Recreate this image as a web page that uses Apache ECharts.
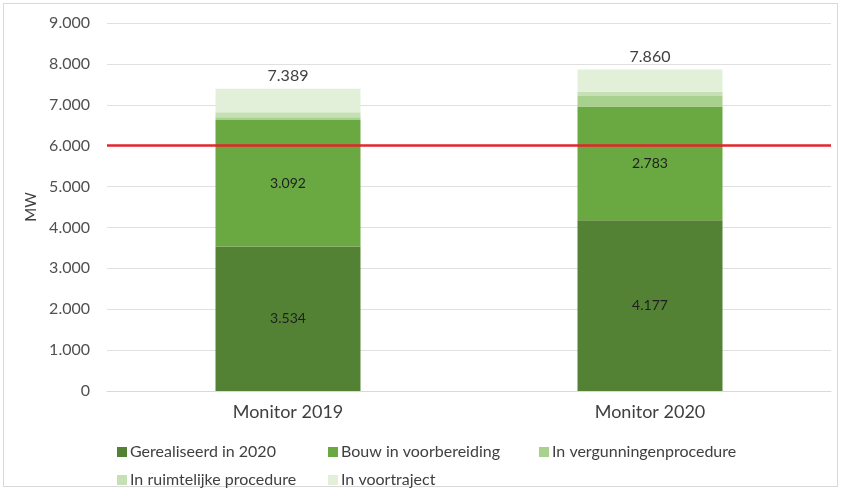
<!DOCTYPE html>
<html>
<head>
<meta charset="utf-8">
<script src="https://cdn.jsdelivr.net/npm/echarts@6/dist/echarts.min.js"></script>
<style>
html,body{margin:0;padding:0;background:#fff;}
#frame{position:absolute;left:3px;top:3px;width:835px;height:484px;border:1px solid #d9d9d9;box-sizing:border-box;}
#chart{position:absolute;left:0;top:0;width:844px;height:492px;}
</style>
</head>
<body>
<div id="frame"></div>
<div id="chart"></div>
<script>
const categories = ['Monitor 2019', 'Monitor 2020'];
const gerealiseerd = [3534, 4177];
const bouw = [3092, 2783];
const vergunning = [70, 253];
const ruimtelijk = [120, 105];
const voortraject = [573, 542];
const targetLine = 6000;
const yTicks = [0, 1000, 2000, 3000, 4000, 5000, 6000, 7000, 8000, 9000];

function fmt(v) {
  const s = String(Math.round(v));
  return s.replace(/\B(?=(\d{3})+(?!\d))/g, '.');
}
const totals = categories.map((_, i) => gerealiseerd[i] + bouw[i] + vergunning[i] + ruimtelijk[i] + voortraject[i]);

const FONT = 'Lato';
const chart = echarts.init(document.getElementById('chart'), null, {renderer: 'canvas'});
const names = ['Gerealiseerd in 2020', 'Bouw in voorbereiding', 'In vergunningenprocedure', 'In ruimtelijke procedure', 'In voortraject'];
const colors = ['#548235', '#6aa842', '#a9d18e', '#c5e0b4', '#e2efd9'];
const datas = [gerealiseerd, bouw, vergunning, ruimtelijk, voortraject];
const legendPos = [[112, 439], [323, 439], [534, 439], [112, 467], [323, 467]];

const series = datas.map((d, k) => {
  const s = {
    name: names[k], type: 'bar', stack: 'total', data: d, barWidth: 145,
    itemStyle: {color: colors[k]}, emphasis: {disabled: true}
  };
  if (k < 2) {
    s.label = {show: true, position: 'inside', fontFamily: FONT, fontSize: 14, color: '#1f1f1f', formatter: p => fmt(p.value)};
  }
  if (k === 4) {
    s.label = {show: true, position: 'top', distance: 5, fontFamily: FONT, fontSize: 16, color: '#404040', formatter: p => fmt(totals[p.dataIndex])};
  }
  return s;
});
series[0].markLine = {
  silent: true, symbol: 'none', label: {show: false},
  lineStyle: {color: '#e3262a', width: 2.5, type: 'solid'},
  data: [{yAxis: targetLine}]
};
series[0].markLine.z = 10;

const option = {
  animation: false,
  textStyle: {fontFamily: FONT},
  grid: {left: 107, right: 13, top: 23, bottom: 101},
  legend: names.map((n, k) => ({
    data: [n], left: legendPos[k][0], top: legendPos[k][1],
    itemWidth: 10, itemHeight: 10, icon: 'rect', itemGap: 6,
    textStyle: {fontFamily: FONT, fontSize: 16, color: '#404040', padding: [0, 0, 0, -2]},
    selectedMode: false
  })),
  xAxis: {
    type: 'category', data: categories,
    axisLine: {show: true, lineStyle: {color: '#d9d9d9'}},
    axisTick: {show: false},
    axisLabel: {fontFamily: FONT, fontSize: 18, color: '#404040', margin: 12}
  },
  yAxis: {
    type: 'value', min: yTicks[0], max: yTicks[yTicks.length - 1], interval: 1000,
    name: 'MW', nameLocation: 'middle', nameGap: 64, nameRotate: 90,
    nameTextStyle: {fontFamily: FONT, fontSize: 15, color: '#404040'},
    axisLine: {show: false}, axisTick: {show: false},
    splitLine: {lineStyle: {color: '#e0e0e0'}},
    axisLabel: {fontFamily: FONT, fontSize: 16, color: '#505050', margin: 17, formatter: v => fmt(v)}
  },
  series: series
};
chart.setOption(option);
</script>
</body>
</html>
